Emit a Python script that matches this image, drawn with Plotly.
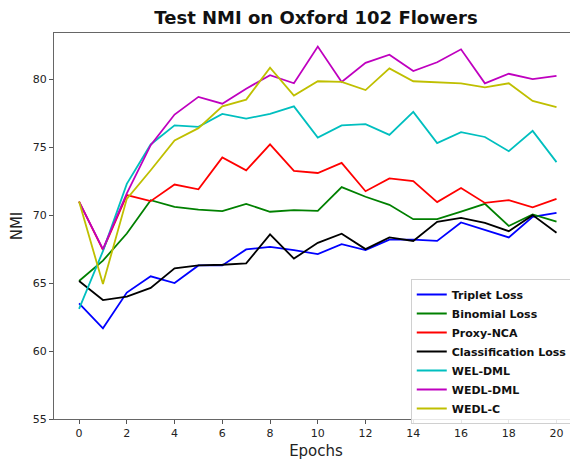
import plotly.graph_objects as go

epochs = list(range(21))

triplet = [63.5, 61.67, 64.3, 65.5, 65.0, 66.3, 66.3, 67.48, 67.67, 67.43, 67.13,
           67.87, 67.43, 68.2, 68.2, 68.1, 69.46, 68.9, 68.36, 69.88, 70.17]
binomial = [65.15, 66.65, 68.65, 71.1, 70.6, 70.4, 70.3, 70.83, 70.25, 70.37, 70.32,
            72.06, 71.35, 70.76, 69.7, 69.7, 70.25, 70.83, 69.2, 70.05, 69.52]
proxy_nca = [71.0, 67.45, 71.47, 71.03, 72.25, 71.9, 74.24, 73.3, 75.2, 73.26, 73.1,
             73.85, 71.76, 72.7, 72.5, 70.96, 72.0, 70.9, 71.1, 70.57, 71.2]
classification = [65.15, 63.75, 64.0, 64.65, 66.08, 66.3, 66.35, 66.45, 68.58, 66.8, 67.96,
                  68.63, 67.5, 68.36, 68.1, 69.5, 69.8, 69.43, 68.82, 70.0, 68.7]
wel_dml = [63.1, 67.35, 72.3, 75.2, 76.6, 76.5, 77.45, 77.1, 77.45, 78.0, 75.7,
           76.6, 76.7, 75.9, 77.6, 75.3, 76.1, 75.75, 74.7, 76.2, 73.9]
wedl_dml = [71.0, 67.5, 71.6, 75.15, 77.4, 78.7, 78.2, 79.3, 80.3, 79.7, 82.4,
            79.8, 81.2, 81.8, 80.6, 81.25, 82.2, 79.7, 80.4, 80.0, 80.25]
wedl_c = [71.0, 64.93, 71.2, 73.3, 75.5, 76.4, 78.0, 78.5, 80.85, 78.8, 79.85,
          79.8, 79.2, 80.8, 79.85, 79.8, 79.7, 79.4, 79.7, 78.4, 77.95]

series_names = ["Triplet Loss", "Binomial Loss", "Proxy-NCA", "Classification Loss",
                "WEL-DML", "WEDL-DML", "WEDL-C"]
series_values = [triplet, binomial, proxy_nca, classification, wel_dml, wedl_dml, wedl_c]
series_colors = ["#0000ff", "#008000", "#ff0000", "#000000", "#00bfbf", "#bf00bf", "#bfbf00"]

x_ticks = list(range(0, 21, 2))
y_ticks = [55, 60, 65, 70, 75, 80]

fig = go.Figure()
for name, vals, col in zip(series_names, series_values, series_colors):
    fig.add_trace(go.Scatter(x=epochs, y=vals, mode="lines", name="<b>" + name + "</b>",
                             line=dict(color=col, width=1.8)))

# the page body has an 8px margin, so the figure is 570x458 and offset by 8px
W, H = 570, 458
font_family = "DejaVu Sans"
fig.update_layout(
    width=W, height=H,
    margin=dict(l=46, r=0, t=25, b=47, autoexpand=False),
    plot_bgcolor="white", paper_bgcolor="white",
    font=dict(family=font_family, color="#222", size=11),
    title=dict(text="<b>Test NMI on Oxford 102 Flowers</b>", x=308/W, xanchor="center",
               y=1 - 10/H, yanchor="middle", yref="container",
               font=dict(family=font_family, size=18, color="#111")),
    showlegend=True,
    legend=dict(x=0.99, y=(419-279)/386, xanchor="right", yanchor="top",
                bgcolor="rgba(255,255,255,0.85)", bordercolor="#d0d0d0", borderwidth=1,
                font=dict(family=font_family, size=11, color="#111"),
                tracegroupgap=0, itemwidth=30),
    xaxis=dict(range=[-1.05, 20.9], tickmode="array", tickvals=x_ticks, automargin=False,
               ticks="outside", ticklen=4, tickcolor="#555", showgrid=False, zeroline=False,
               showline=True, linecolor="#666", linewidth=1.2, mirror=True,
               title=dict(text="Epochs", font=dict(size=15, family=font_family, color="#222"), standoff=6),
               tickfont=dict(size=11)),
    yaxis=dict(range=[55, 83.4], tickmode="array", tickvals=y_ticks, automargin=False,
               ticks="outside", ticklen=4, tickcolor="#555", showgrid=False, zeroline=False,
               showline=True, linecolor="#666", linewidth=1.2,
               title=dict(text="NMI", font=dict(size=15, family=font_family, color="#222"), standoff=10),
               tickfont=dict(size=11)),
)

fig.write_html("out.html")
